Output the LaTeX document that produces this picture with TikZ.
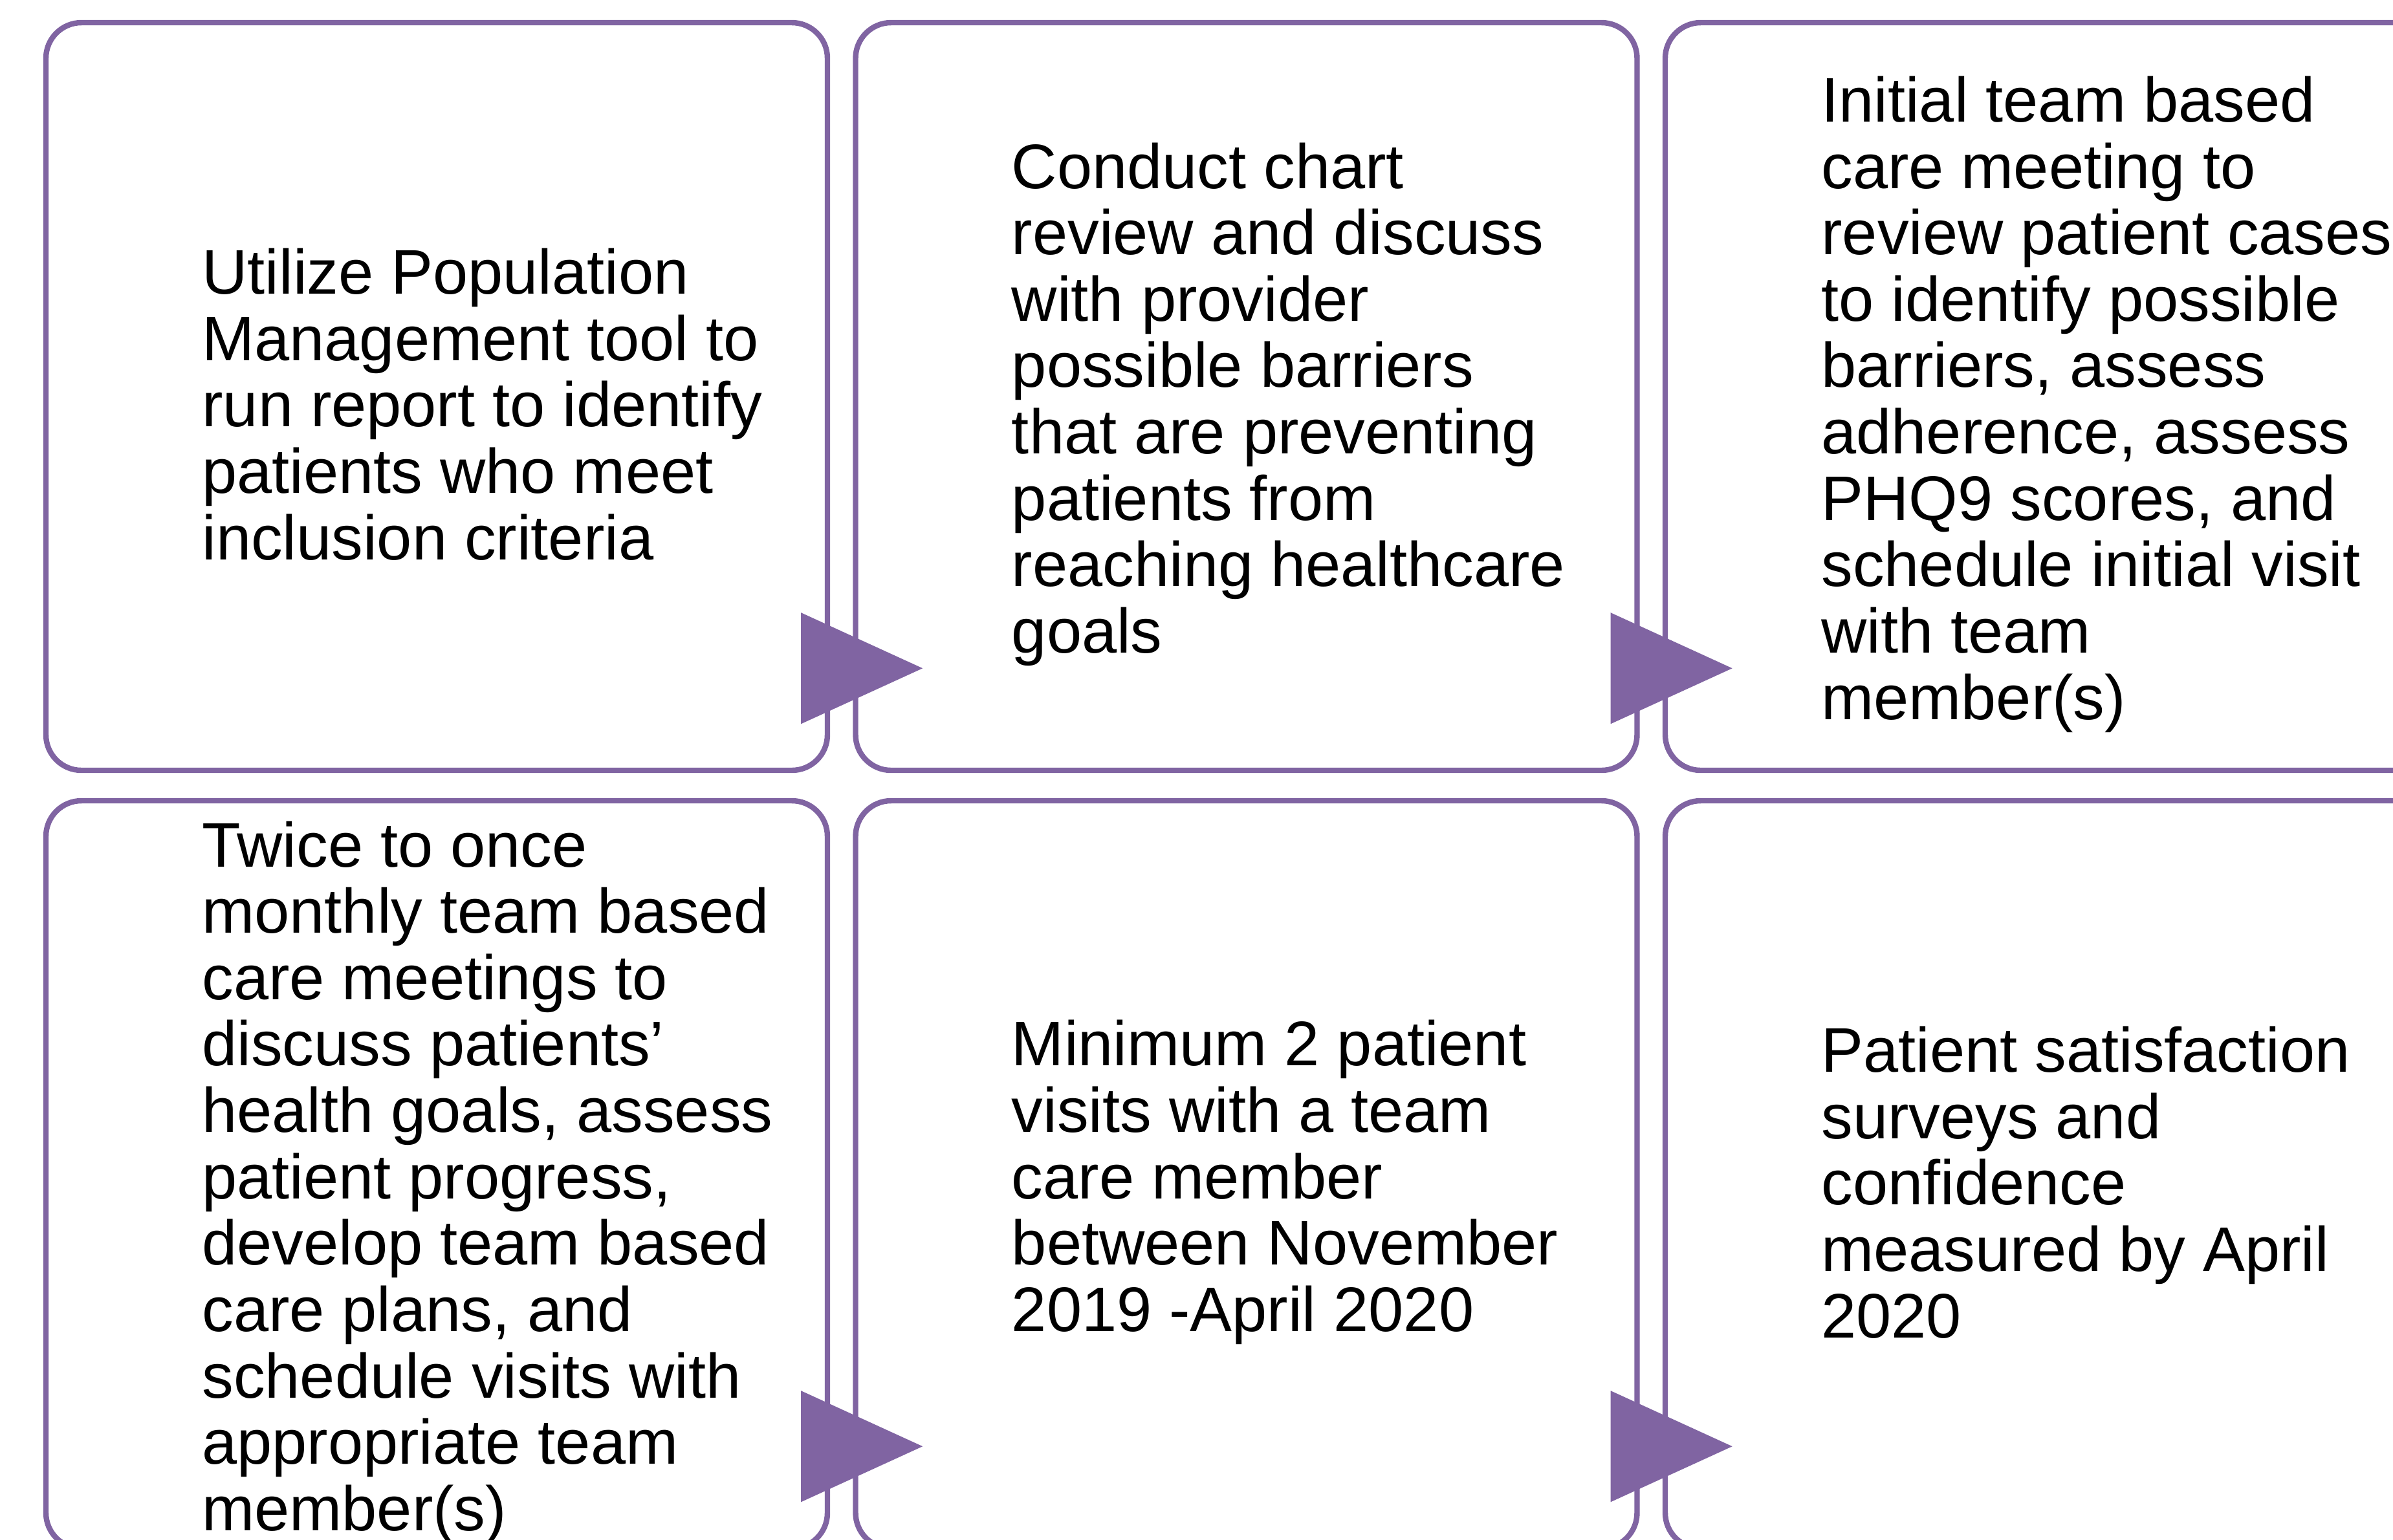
\documentclass[tikz,border=0pt]{standalone}
\usepackage{fontspec}
\setmainfont{Liberation Sans}
\usetikzlibrary{calc}
\definecolor{procpurple}{HTML}{8064A2}

\begin{document}
\begin{tikzpicture}[
    procbox/.style={draw=procpurple, line width=2.4pt, rounded corners=0.55cm,
        minimum width=12.08cm, minimum height=11.56cm, inner sep=0pt},
    proctext/.style={anchor=west, align=left, inner sep=0pt,
        font=\fontsize{27.7}{29.2}\selectfont},
    procarrow/.style={fill=procpurple}
  ]

			\useasboundingbox (0, 0) rectangle (36.99, -23.80);

			\node[procbox] (b1) at (6.75, -6.13) {};
			\node[procbox] (b2) at (19.265, -6.13) {};
			\node[procbox] (b3) at (31.78, -6.13) {};
			\node[procbox] (b4) at (6.75, -18.16) {};
			\node[procbox] (b5) at (19.265, -18.16) {};
			\node[procbox] (b6) at (31.78, -18.16) {};

			\node[proctext] (t1) at ([xshift=2.45cm,yshift=-0.12cm]b1.west) {Utilize Population\\Management tool to\\run report to identify\\patients who meet\\inclusion criteria};
			\node[proctext] (t2) at ([xshift=2.45cm,yshift=-0.12cm]b2.west) {Conduct chart\\review and discuss\\with provider\\possible barriers\\that are preventing\\patients from\\reaching healthcare\\goals};
			\node[proctext] (t3) at ([xshift=2.45cm,yshift=-0.12cm]b3.west) {Initial team based\\care meeting to\\review patient cases\\to identify possible\\barriers, assess\\adherence, assess\\PHQ9 scores, and\\schedule initial visit\\with team\\member(s)};
			\node[proctext] (t4) at ([xshift=2.45cm,yshift=-0.12cm]b4.west) {Twice to once\\monthly team based\\care meetings to\\discuss patients’\\health goals, assess\\patient progress,\\develop team based\\care plans, and\\schedule visits with\\appropriate team\\member(s)};
			\node[proctext] (t5) at ([xshift=2.45cm,yshift=-0.12cm]b5.west) {Minimum 2 patient\\visits with a team\\care member\\between November\\2019 -April 2020};
			\node[proctext] (t6) at ([xshift=2.45cm,yshift=-0.12cm]b6.west) {Patient satisfaction\\surveys and\\confidence\\measured by April\\2020};

			% arrows between the boxes
			\fill[procarrow] ($(b1.south east)+(-0.45,0.76)$) -- ($(b1.south east)+(-0.45,2.48)$) -- ($(b1.south east)+(1.43,1.62)$) -- cycle;
			\fill[procarrow] ($(b2.south east)+(-0.45,0.76)$) -- ($(b2.south east)+(-0.45,2.48)$) -- ($(b2.south east)+(1.43,1.62)$) -- cycle;
			\fill[procarrow] ($(b4.south east)+(-0.45,0.76)$) -- ($(b4.south east)+(-0.45,2.48)$) -- ($(b4.south east)+(1.43,1.62)$) -- cycle;
			\fill[procarrow] ($(b5.south east)+(-0.45,0.76)$) -- ($(b5.south east)+(-0.45,2.48)$) -- ($(b5.south east)+(1.43,1.62)$) -- cycle;

		\end{tikzpicture}
\end{document}
